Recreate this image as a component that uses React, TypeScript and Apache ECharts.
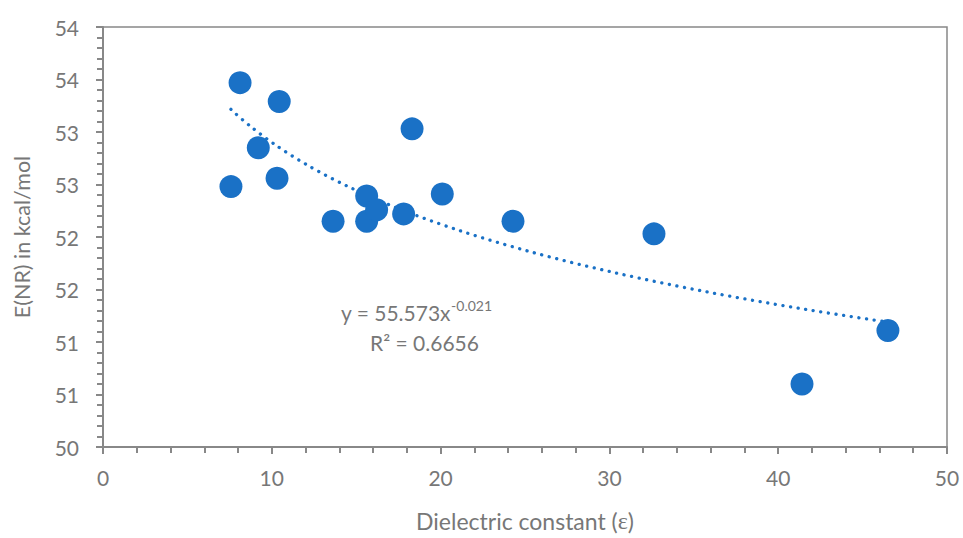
import React, { useEffect, useRef } from "react";
import * as echarts from "echarts";

const dielectric = [7.58, 8.12, 9.2, 10.31, 10.44, 13.63, 15.62, 15.62, 16.21, 17.81, 18.31, 20.1, 24.29, 32.64, 41.41, 46.5];
const energy = [52.48, 53.47, 52.85, 52.56, 53.29, 52.15, 52.39, 52.15, 52.26, 52.22, 53.03, 52.41, 52.15, 52.03, 50.6, 51.11];

// Power trendline y = a * x^b (coefficients as drawn; label shows them rounded)
const trendA = 55.573;
const trendB = -0.0214;

const equationText = "y = 55.573x";
const equationExp = "-0.021";
const rSquaredText = "R² = 0.6656";

const xTitleMain = "Dielectric constant (";
const xTitleSymbol = "ε";
const xTitleEnd = ")";
const yTitle = "E(NR) in kcal/mol";

const FONT = "Lato, 'Open Sans', sans-serif";
const SERIF = "'Liberation Serif', 'DejaVu Serif', serif";
const TEXT = "#777777";
const AXIS = "#888888";
const BLUE = "#1a71c6";

export default function App() {
  const ref = useRef<HTMLDivElement>(null);
  useEffect(() => {
    if (!ref.current) return;
    const chart = echarts.init(ref.current, undefined, { renderer: "svg" });
    const pts = dielectric.map((x, i) => [x, energy[i]]);
    const xMin = Math.min(...dielectric);
    const xMax = Math.max(...dielectric);
    const trend: number[][] = [];
    const steps = 80;
    for (let i = 0; i <= steps; i++) {
      const x = xMin + ((xMax - xMin) * i) / steps;
      trend.push([x, trendA * Math.pow(x, trendB)]);
    }
    chart.setOption({
      animation: false,
      grid: {
        left: 103,
        right: 16,
        top: 27,
        bottom: 89,
        show: true,
        borderColor: AXIS,
        borderWidth: 1.5,
      },
      xAxis: {
        type: "value",
        min: 0,
        max: 50,
        interval: 10,
        name: `{a|${xTitleMain}}{e|${xTitleSymbol}}{a|${xTitleEnd}}`,
        nameLocation: "middle",
        nameGap: 62,
        nameTextStyle: {
          color: TEXT,
          fontSize: 23,
          fontFamily: FONT,
          rich: {
            a: { color: TEXT, fontSize: 23, fontFamily: FONT },
            e: { color: TEXT, fontSize: 24, fontFamily: SERIF },
          },
        },
        axisLine: { show: true, lineStyle: { color: AXIS, width: 2 } },
        axisTick: { show: true, length: 7, lineStyle: { color: AXIS, width: 2 } },
        minorTick: { show: true, splitNumber: 5, length: 6, lineStyle: { color: AXIS, width: 2 } },
        splitLine: { show: false },
        axisLabel: { color: TEXT, fontSize: 21, fontFamily: FONT, margin: 20 },
      },
      yAxis: {
        type: "value",
        min: 50,
        max: 54,
        interval: 0.5,
        name: yTitle,
        nameLocation: "middle",
        nameGap: 70,
        nameTextStyle: { color: TEXT, fontSize: 21.5, fontFamily: FONT },
        axisLine: { show: true, lineStyle: { color: AXIS, width: 2 } },
        axisTick: { show: true, length: 7, lineStyle: { color: AXIS, width: 2 } },
        minorTick: { show: true, splitNumber: 5, length: 6, lineStyle: { color: AXIS, width: 2 } },
        splitLine: { show: false },
        axisLabel: {
          color: TEXT,
          fontSize: 21,
          fontFamily: FONT,
          margin: 24,
          formatter: (v: number) => String(Math.round(v)),
        },
      },
      series: [
        {
          type: "line",
          data: trend,
          showSymbol: false,
          smooth: true,
          lineStyle: { color: BLUE, width: 3.3, type: [0.1, 7.6], cap: "round" },
          z: 3,
        },
        {
          type: "scatter",
          data: pts,
          symbolSize: 23,
          itemStyle: { color: BLUE, opacity: 1 },
          z: 4,
        },
      ],
      graphic: [
        {
          type: "text",
          left: 341,
          top: 298,
          style: {
            text: `{m|${equationText}}{s|${equationExp}}`,
            rich: {
              m: { fontSize: 21, fontFamily: FONT, fill: TEXT },
              s: { fontSize: 14, fontFamily: FONT, fill: TEXT, padding: [0, 0, 14, 0] },
            },
          },
        },
        {
          type: "text",
          left: 370,
          top: 332,
          style: { text: rSquaredText, fontSize: 21, fontFamily: FONT, fill: TEXT },
        },
      ],
    });
    return () => chart.dispose();
  }, []);
  return <div ref={ref} style={{ width: 963, height: 538, position: "absolute", left: 0, top: 0 }} />;
}
